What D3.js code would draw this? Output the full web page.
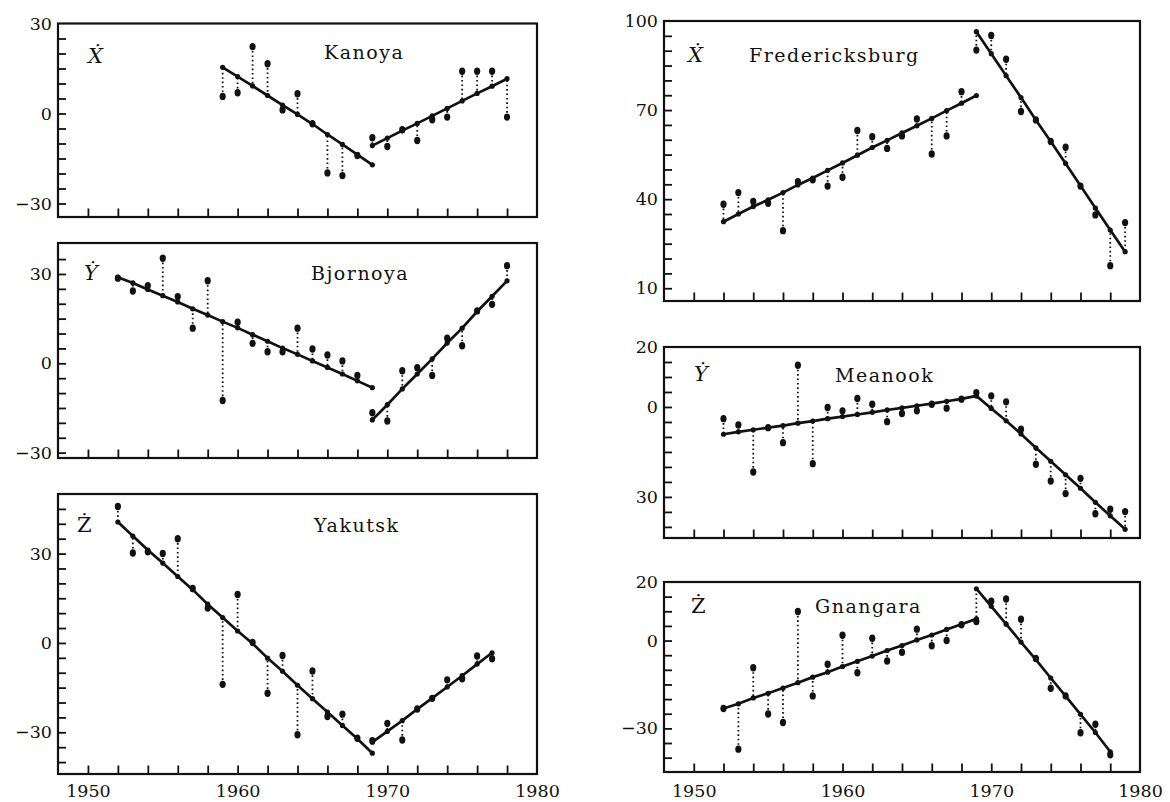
<!DOCTYPE html>
<html>
<head>
<meta charset="utf-8">
<script src="https://cdn.jsdelivr.net/npm/d3@7"></script>
<style>
  body { margin: 0; background: #fff; }
  svg { display: block; }
</style>
</head>
<body>
<svg id="chart"></svg>
<script>
// ---- DATA ----
const breakYear = 1969;
const xLabelYears = [1950, 1960, 1970, 1980];

// Kanoya, X-dot
const kanoyaYears = [1959, 1960, 1961, 1962, 1963, 1964, 1965, 1966, 1967, 1968, 1969, 1970, 1971, 1972, 1973, 1974, 1975, 1976, 1977, 1978];
const kanoyaObs = [5.7, 6.9, 22.3, 16.6, 1.2, 6.6, -3.4, -19.8, -20.7, -14.0, -8.1, -11.0, -5.4, -9.0, -2.1, -1.2, 14.1, 14.1, 14.1, -1.2];
const kanoyaFitA = [15.4, 12.3, 9.2, 6.0, 2.8, -0.3, -3.5, -7.0, -10.3, -13.7, -17.1];
const kanoyaFitB = [-10.7, -8.2, -5.7, -3.3, -0.8, 1.7, 4.2, 6.7, 9.1, 11.6];
const kanoyaTickValues = [30, 0, -30];
const kanoyaTickLabels = ["30", "0", "\u221230"];

// Bjornoya, Y-dot
const bjornoyaYears = [1952, 1953, 1954, 1955, 1956, 1957, 1958, 1959, 1960, 1961, 1962, 1963, 1964, 1965, 1966, 1967, 1968, 1969, 1970, 1971, 1972, 1973, 1974, 1975, 1976, 1977, 1978];
const bjornoyaObs = [28.6, 24.3, 26.1, 35.3, 22.4, 11.8, 27.7, -12.5, 13.8, 6.7, 3.9, 3.9, 11.8, 4.8, 2.8, 0.8, -4.1, -16.6, -19.4, -2.5, -1.5, -4.1, 8.4, 5.9, 17.6, 19.8, 32.8];
const bjornoyaFitA = [28.9, 27.0, 24.8, 22.7, 20.6, 18.3, 16.2, 14.0, 11.9, 9.6, 7.4, 5.1, 3.0, 0.8, -1.4, -3.6, -5.9, -8.2];
const bjornoyaFitB = [-19.0, -13.9, -8.6, -3.6, 1.5, 6.8, 11.8, 17.4, 22.5, 27.7];
const bjornoyaTickValues = [30, 0, -30];
const bjornoyaTickLabels = ["30", "0", "\u221230"];

// Yakutsk, Z-dot
const yakutskYears = [1952, 1953, 1954, 1955, 1956, 1957, 1958, 1959, 1960, 1961, 1962, 1963, 1964, 1965, 1966, 1967, 1968, 1969, 1970, 1971, 1972, 1973, 1974, 1975, 1976, 1977];
const yakutskObs = [45.8, 30.2, 30.6, 30.0, 35.0, 18.3, 11.7, -13.9, 16.3, 0.2, -16.9, -4.2, -30.8, -9.4, -24.7, -23.9, -32.0, -32.8, -27.0, -32.6, -22.2, -18.6, -12.4, -12.0, -4.4, -5.3];
const yakutskFitA = [40.6, 35.9, 31.2, 26.8, 22.3, 17.9, 13.0, 8.5, 4.0, -0.2, -5.1, -9.5, -14.2, -18.7, -23.2, -27.7, -32.2, -37.0];
const yakutskFitB = [-33.3, -29.7, -26.1, -22.2, -18.5, -14.8, -11.0, -7.1, -3.3];
const yakutskTickValues = [30, 0, -30];
const yakutskTickLabels = ["30", "0", "\u221230"];

// Fredericksburg, X-dot
const fredYears = [1952, 1953, 1954, 1955, 1956, 1957, 1958, 1959, 1960, 1961, 1962, 1963, 1964, 1965, 1966, 1967, 1968, 1969, 1970, 1971, 1972, 1973, 1974, 1975, 1976, 1977, 1978, 1979];
const fredObs = [38.3, 42.2, 39.2, 38.6, 29.4, 45.9, 46.5, 44.4, 47.4, 63.1, 61.0, 57.1, 61.3, 67.0, 55.2, 61.3, 76.2, 90.2, 95.1, 87.1, 69.5, 66.7, 59.4, 57.5, 44.4, 34.7, 17.6, 32.1];
const fredFitA = [32.4, 35.0, 37.5, 39.8, 42.2, 44.8, 47.1, 49.7, 52.2, 54.8, 57.4, 59.8, 62.3, 64.7, 67.2, 69.8, 72.3, 74.9];
const fredFitB = [96.4, 89.0, 81.6, 74.2, 66.7, 59.4, 52.0, 44.5, 37.0, 29.6, 22.3];
const fredTickValues = [100, 70, 40, 10];
const fredTickLabels = ["100", "70", "40", "10"];

// Meanook, Y-dot
const meanookYears = [1952, 1953, 1954, 1955, 1956, 1957, 1958, 1959, 1960, 1961, 1962, 1963, 1964, 1965, 1966, 1967, 1968, 1969, 1970, 1971, 1972, 1973, 1974, 1975, 1976, 1977, 1978, 1979];
const meanookObs = [-3.9, -6.0, -21.7, -6.9, -11.9, 13.9, -18.9, -0.2, -1.3, 2.8, 0.9, -4.9, -2.2, -1.3, 0.9, -0.4, 2.6, 4.8, 3.7, 1.7, -7.4, -19.1, -24.7, -28.9, -23.8, -35.6, -34.1, -34.9];
const meanookFitA = [-9.1, -8.3, -7.6, -6.9, -6.2, -5.4, -4.7, -3.9, -3.2, -2.5, -1.8, -1.0, -0.3, 0.4, 1.1, 1.9, 2.7, 3.7];
const meanookFitB = [3.7, -0.5, -4.6, -9.0, -13.6, -18.1, -22.6, -27.1, -31.8, -36.3, -40.8];
const meanookTickValues = [20, 0, -30];
const meanookTickLabels = ["20", "0", "30"];

// Gnangara, Z-dot
const gnangaraYears = [1952, 1953, 1954, 1955, 1956, 1957, 1958, 1959, 1960, 1961, 1962, 1963, 1964, 1965, 1966, 1967, 1968, 1969, 1970, 1971, 1972, 1973, 1974, 1975, 1976, 1977, 1978];
const gnangaraObs = [-23.2, -37.1, -9.3, -25.1, -28.0, 9.9, -18.9, -8.1, 1.8, -11.0, 0.8, -7.0, -4.0, 3.9, -1.8, 0.0, 5.4, 6.5, 13.4, 14.2, 7.3, -6.1, -16.3, -18.9, -31.5, -28.6, -39.0];
const gnangaraFitA = [-23.2, -21.6, -19.6, -18.0, -16.2, -14.4, -12.5, -10.8, -8.9, -7.1, -5.3, -3.4, -1.7, 0.2, 1.9, 3.8, 5.6, 7.4];
const gnangaraFitB = [17.7, 11.7, 5.6, -0.5, -6.5, -12.8, -19.0, -25.2, -31.4, -38.0];
const gnangaraTickValues = [20, 0, -30];
const gnangaraTickLabels = ["20", "0", "\u221230"];

// ---- LAYOUT ----
const W = 1170, H = 802;
const FONT = "'DejaVu Serif', 'Liberation Serif', serif";
const INK = "#111";

const panels = [
  { name: "Kanoya", sym: "\u1E8A", italic: true, years: kanoyaYears, obs: kanoyaObs, fitA: kanoyaFitA, fitB: kanoyaFitB,
    tv: kanoyaTickValues, tl: kanoyaTickLabels,
    left: 58, right: 537, top: 23.5, bottom: 217, yDomain: [-34.5, 30],
    titleX: 324, titleY: 59, symX: 88, symY: 63, xLabels: false },
  { name: "Bjornoya", sym: "\u1E8E", italic: true, years: bjornoyaYears, obs: bjornoyaObs, fitA: bjornoyaFitA, fitB: bjornoyaFitB,
    tv: bjornoyaTickValues, tl: bjornoyaTickLabels,
    left: 58, right: 537, top: 243, bottom: 458, yDomain: [-31.8, 40.4],
    titleX: 311, titleY: 280, symX: 84, symY: 280, xLabels: false },
  { name: "Yakutsk", sym: "\u017B", italic: false, years: yakutskYears, obs: yakutskObs, fitA: yakutskFitA, fitB: yakutskFitB,
    tv: yakutskTickValues, tl: yakutskTickLabels,
    left: 58, right: 537, top: 494, bottom: 774, yDomain: [-44, 50],
    titleX: 314, titleY: 532, symX: 77, symY: 532, xLabels: true },
  { name: "Fredericksburg", sym: "\u1E8A", italic: true, years: fredYears, obs: fredObs, fitA: fredFitA, fitB: fredFitB,
    tv: fredTickValues, tl: fredTickLabels,
    left: 664, right: 1140, top: 21, bottom: 301, yDomain: [5.7, 100],
    titleX: 749, titleY: 62, symX: 688, symY: 62, xLabels: false },
  { name: "Meanook", sym: "\u1E8E", italic: true, years: meanookYears, obs: meanookObs, fitA: meanookFitA, fitB: meanookFitB,
    tv: meanookTickValues, tl: meanookTickLabels,
    left: 664, right: 1140, top: 347, bottom: 538, yDomain: [-43.7, 20],
    titleX: 835, titleY: 382, symX: 694, symY: 381, xLabels: false },
  { name: "Gnangara", sym: "\u017B", italic: false, years: gnangaraYears, obs: gnangaraObs, fitA: gnangaraFitA, fitB: gnangaraFitB,
    tv: gnangaraTickValues, tl: gnangaraTickLabels,
    left: 664, right: 1140, top: 582, bottom: 772, yDomain: [-44.9, 20],
    titleX: 815, titleY: 613, symX: 691, symY: 613, xLabels: true }
];

const svg = d3.select("#chart").attr("width", W).attr("height", H);

function styleAxis(g) {
  g.select(".domain").remove();
  g.selectAll("line").attr("stroke", INK).attr("stroke-width", 1.8);
  g.selectAll("text").attr("fill", INK).style("font-family", FONT).style("font-size", "17.5px");
}

function drawPanel(p) {
  const x = d3.scaleLinear().domain([1948, 1980]).range([p.left, p.right]);
  const y = d3.scaleLinear().domain(p.yDomain).range([p.bottom, p.top]);
  const g = svg.append("g");

  // 1. inner tick marks
  const yTicks = d3.range(Math.ceil(p.yDomain[0] / 5) * 5, p.yDomain[1] - 1, 5);
  g.append("g")
    .attr("transform", `translate(${p.left},0)`)
    .call(d3.axisLeft(y).tickValues(yTicks).tickSize(-8).tickFormat(""))
    .call(styleAxis);

  g.append("g")
    .attr("transform", `translate(0,${p.bottom})`)
    .call(d3.axisBottom(x).tickValues(d3.range(1950, 1979, 2)).tickSize(-8.5).tickFormat(""))
    .call(styleAxis);

  // 2. tick labels
  g.append("g")
    .attr("transform", `translate(${p.left},0)`)
    .call(d3.axisLeft(y).tickValues(p.tv).tickSize(0).tickPadding(6)
      .tickFormat((d, i) => p.tl[i]))
    .call(styleAxis);

  if (p.xLabels) {
    g.append("g")
      .attr("transform", `translate(0,${p.bottom})`)
      .call(d3.axisBottom(x).tickValues(xLabelYears).tickSize(0).tickPadding(p.bottom > 773 ? 10.5 : 12.5)
        .tickFormat(d3.format("d")))
      .call(styleAxis);
  }

  // 3. frame
  g.append("rect")
    .attr("x", p.left).attr("y", p.top)
    .attr("width", p.right - p.left).attr("height", p.bottom - p.top)
    .attr("fill", "none").attr("stroke", INK).attr("stroke-width", 2.2);

  // 4. fitted segments
  const segA = p.years.filter(d => d <= breakYear).map((yr, i) => ({ yr, v: p.fitA[i] }));
  const segB = p.years.filter(d => d >= breakYear).map((yr, i) => ({ yr, v: p.fitB[i] }));
  const fitFor = yr => {
    const b = segB.find(d => d.yr === yr);
    return b ? b.v : segA.find(d => d.yr === yr).v;
  };

  // dotted residuals
  g.selectAll(".res")
    .data(p.years.map((yr, i) => ({ yr, o: p.obs[i], f: fitFor(yr) })))
    .enter().append("line")
    .attr("x1", d => x(d.yr)).attr("x2", d => x(d.yr))
    .attr("y1", d => y(d.o)).attr("y2", d => y(d.f))
    .attr("stroke", INK).attr("stroke-width", 1.8)
    .attr("stroke-dasharray", "1.6,2.8");

  const line = d3.line().x(d => x(d.yr)).y(d => y(d.v));
  [segA, segB].forEach(seg => {
    g.append("path").datum(seg)
      .attr("d", line)
      .attr("fill", "none").attr("stroke", INK).attr("stroke-width", 2.7);
    g.selectAll(null).data(seg).enter().append("circle")
      .attr("cx", d => x(d.yr)).attr("cy", d => y(d.v)).attr("r", 2.6)
      .attr("fill", INK);
  });

  // 5. observed points
  g.selectAll(".obs")
    .data(p.years.map((yr, i) => ({ yr, o: p.obs[i] })))
    .enter().append("ellipse")
    .attr("cx", d => x(d.yr)).attr("cy", d => y(d.o))
    .attr("rx", 3.1).attr("ry", 3.7)
    .attr("fill", INK);

  // 6. labels
  g.append("text")
    .attr("x", p.titleX).attr("y", p.titleY)
    .text(p.name)
    .style("font-family", FONT).style("font-size", "19px")
    .style("letter-spacing", "1.5px")
    .attr("fill", INK);

  g.append("text")
    .attr("x", p.symX).attr("y", p.symY)
    .text(p.sym)
    .style("font-family", FONT).style("font-size", "21px")
    .style("font-style", p.italic ? "italic" : "normal")
    .attr("fill", INK);
}

panels.forEach(drawPanel);
</script>
</body>
</html>
